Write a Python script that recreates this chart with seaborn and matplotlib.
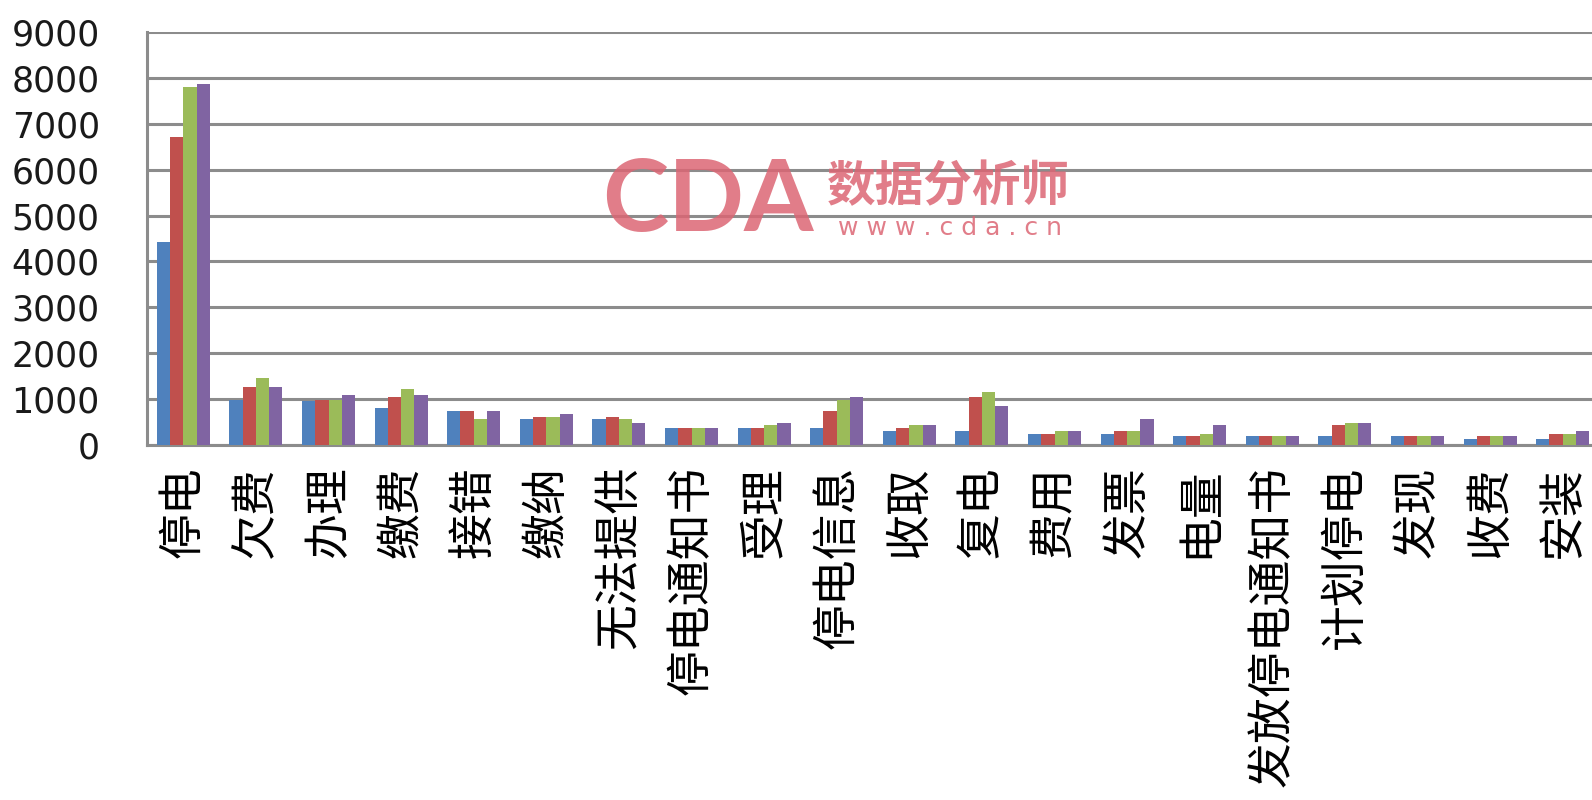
import matplotlib
matplotlib.use("Agg")
import matplotlib.pyplot as plt
import pandas as pd
import seaborn as sns

categories = [
    "停电", "欠费", "办理", "缴费", "接错", "缴纳", "无法提供", "停电通知书",
    "受理", "停电信息", "收取", "复电", "费用", "发票", "电量",
    "发放停电通知书", "计划停电", "发现", "收费", "安装",
]
series_names = ["系列1", "系列2", "系列3", "系列4"]
s1 = [4430, 980, 950, 800, 740, 560, 560, 380, 380, 380, 310, 310, 250, 250, 200, 200, 200, 200, 130, 130]
s2 = [6720, 1270, 990, 1040, 740, 620, 620, 380, 380, 740, 380, 1040, 250, 310, 200, 200, 440, 200, 200, 250]
s3 = [7810, 1450, 990, 1210, 560, 620, 560, 380, 440, 980, 440, 1160, 310, 310, 250, 200, 490, 200, 200, 250]
s4 = [7870, 1270, 1090, 1090, 740, 680, 490, 380, 490, 1040, 440, 860, 310, 560, 440, 200, 490, 200, 200, 310]
colors = ["#4f81bd", "#c0504d", "#9bbb59", "#8064a2"]
yticks = [0, 1000, 2000, 3000, 4000, 5000, 6000, 7000, 8000, 9000]

rows = []
for name, vals in zip(series_names, [s1, s2, s3, s4]):
    for cat, v in zip(categories, vals):
        rows.append({"类别": cat, "系列": name, "数量": v})
df = pd.DataFrame(rows)

sns.set_theme(style="white")
plt.rcParams["font.family"] = ["Noto Sans CJK SC", "DejaVu Sans"]

fig = plt.figure(figsize=(15.92, 8.0), dpi=100)
ax = fig.add_axes([147 / 1592, 355 / 800, 1452 / 1592, 413 / 800])

sns.barplot(
    data=df, x="类别", y="数量", hue="系列", order=categories,
    hue_order=series_names, palette=colors, saturation=1, width=0.73,
    linewidth=0, legend=False, ax=ax, zorder=3,
)

ax.set_xlim(-0.5, len(categories) - 0.5)
ax.set_ylim(0, 9000)
ax.set_yticks(yticks)
ax.set_yticklabels([str(t) for t in yticks], fontsize=25, family="DejaVu Sans",
                   color="#1a1a1a")
ax.set_xticks(range(len(categories)))
ax.set_xticklabels(categories, rotation=90, fontsize=33, color="black")
ax.tick_params(axis="y", length=0, pad=34)
ax.tick_params(axis="x", length=0, pad=15)
ax.set_xlabel("")
ax.set_ylabel("")

ax.yaxis.grid(True, color="#8c8c8c", linewidth=2.2, zorder=0)
ax.set_axisbelow(True)
for side in ["top", "right"]:
    ax.spines[side].set_visible(False)
for side in ["left", "bottom"]:
    ax.spines[side].set_color("#8c8c8c")
    ax.spines[side].set_linewidth(2.2)

# watermark
wm = "#dc6674"
fig.text(708 / 1592, 1 - 202 / 800, "CDA", fontsize=72, fontweight="bold",
         family="Lato", color=wm, alpha=0.85, ha="center", va="center")
fig.text(948 / 1592, 1 - 187 / 800, "数据分析师", fontsize=35, fontweight="bold",
         color=wm, alpha=0.85, ha="center", va="center")
fig.text(950 / 1592, 1 - 228 / 800, "w w w . c d a . c n", fontsize=18,
         family="DejaVu Sans", color=wm, alpha=0.85, ha="center", va="center")

fig.savefig("out.png", dpi=100)
